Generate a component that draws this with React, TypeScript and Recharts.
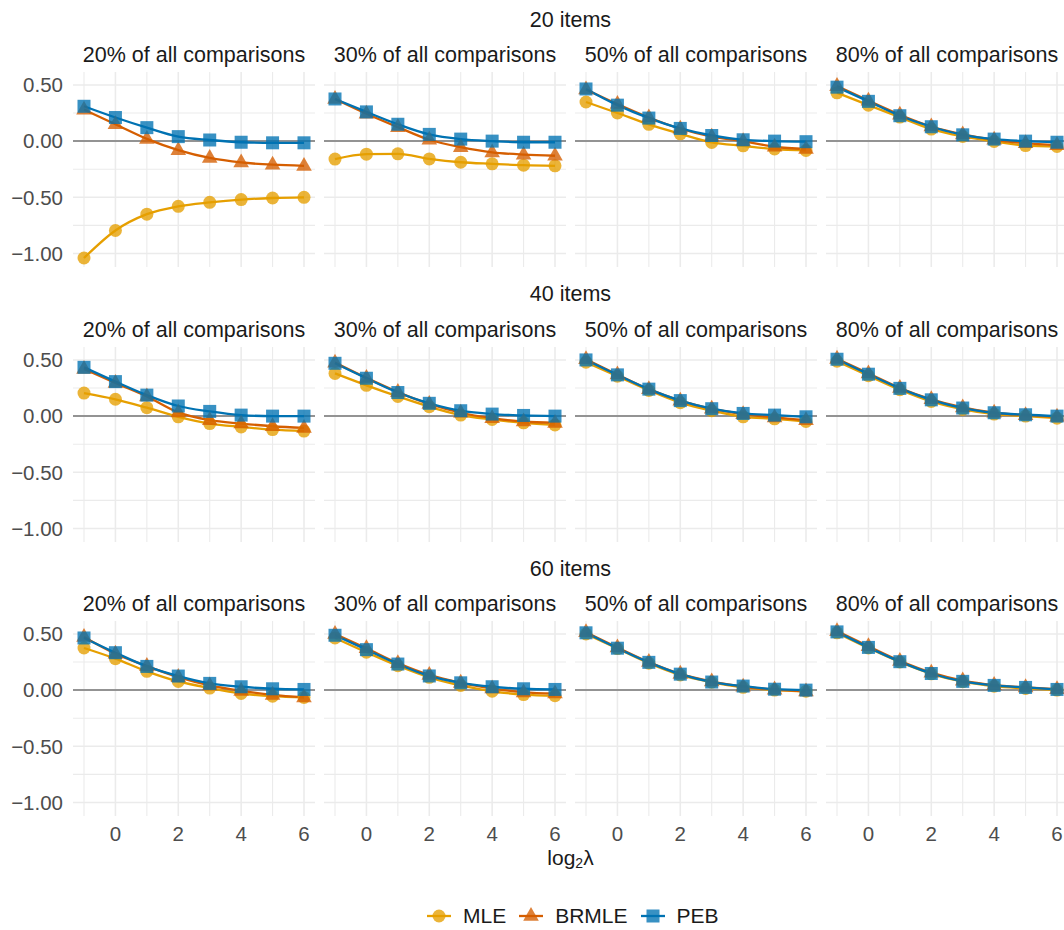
import { LineChart, Line, XAxis, YAxis, CartesianGrid, ReferenceLine } from "recharts"

const lambdaLog = [-1, 0, 1, 2, 3, 4, 5, 6]
const itemLabels = ["20 items", "40 items", "60 items"]
const shareLabels = ["20% of all comparisons", "30% of all comparisons", "50% of all comparisons", "80% of all comparisons"]
const methods = ["MLE", "BRMLE", "PEB"]

// each array: one row per share (20%, 30%, 50%, 80%), one value per log2(lambda)
const mle20 = [
  [-1.04, -0.795, -0.65, -0.58, -0.545, -0.52, -0.506, -0.5],
  [-0.16, -0.116, -0.113, -0.158, -0.188, -0.202, -0.214, -0.22],
  [0.348, 0.25, 0.149, 0.065, -0.012, -0.042, -0.07, -0.083],
  [0.43, 0.32, 0.214, 0.107, 0.042, -0.003, -0.04, -0.048],
]
const brmle20 = [
  [0.28, 0.15, 0.02, -0.08, -0.15, -0.19, -0.21, -0.22],
  [0.375, 0.244, 0.125, 0.012, -0.054, -0.1, -0.12, -0.13],
  [0.46, 0.33, 0.21, 0.11, 0.04, 0.0, -0.05, -0.07],
  [0.49, 0.36, 0.235, 0.13, 0.06, 0.012, -0.018, -0.035],
]
const peb20 = [
  [0.31, 0.21, 0.12, 0.04, 0.01, -0.01, -0.015, -0.015],
  [0.375, 0.26, 0.15, 0.06, 0.018, 0.0, -0.01, -0.01],
  [0.464, 0.32, 0.205, 0.113, 0.05, 0.012, 0.0, -0.005],
  [0.48, 0.354, 0.226, 0.128, 0.056, 0.018, 0.0, -0.01],
]
const mle40 = [
  [0.205, 0.15, 0.075, -0.006, -0.066, -0.096, -0.12, -0.133],
  [0.38, 0.274, 0.175, 0.084, 0.009, -0.03, -0.06, -0.078],
  [0.48, 0.355, 0.229, 0.12, 0.048, -0.006, -0.024, -0.048],
  [0.488, 0.36, 0.235, 0.13, 0.06, 0.018, 0.0, -0.018],
]
const brmle40 = [
  [0.42, 0.295, 0.175, 0.033, -0.036, -0.066, -0.09, -0.105],
  [0.476, 0.34, 0.214, 0.108, 0.03, -0.018, -0.048, -0.06],
  [0.506, 0.37, 0.24, 0.138, 0.066, 0.018, -0.012, -0.036],
  [0.51, 0.38, 0.25, 0.15, 0.078, 0.03, 0.009, -0.006],
]
const peb40 = [
  [0.434, 0.307, 0.187, 0.09, 0.042, 0.009, 0.0, 0.0],
  [0.47, 0.337, 0.21, 0.114, 0.048, 0.018, 0.006, 0.0],
  [0.5, 0.367, 0.24, 0.138, 0.066, 0.024, 0.009, -0.006],
  [0.506, 0.373, 0.247, 0.145, 0.072, 0.03, 0.012, 0.0],
]
const mle60 = [
  [0.375, 0.28, 0.167, 0.077, 0.018, -0.03, -0.054, -0.065],
  [0.464, 0.337, 0.217, 0.114, 0.042, -0.01, -0.04, -0.05],
  [0.5, 0.37, 0.24, 0.135, 0.07, 0.025, 0.0, -0.01],
  [0.51, 0.375, 0.25, 0.145, 0.075, 0.035, 0.015, 0.0],
]
const brmle60 = [
  [0.473, 0.324, 0.214, 0.116, 0.042, -0.006, -0.042, -0.065],
  [0.5, 0.373, 0.24, 0.135, 0.065, 0.015, -0.02, -0.03],
  [0.515, 0.38, 0.25, 0.145, 0.078, 0.03, 0.005, -0.012],
  [0.525, 0.39, 0.26, 0.155, 0.085, 0.045, 0.025, 0.008],
]
const peb60 = [
  [0.464, 0.333, 0.211, 0.125, 0.06, 0.03, 0.012, 0.006],
  [0.488, 0.36, 0.232, 0.126, 0.065, 0.03, 0.012, 0.006],
  [0.51, 0.373, 0.247, 0.142, 0.072, 0.036, 0.008, 0.0],
  [0.518, 0.38, 0.253, 0.148, 0.078, 0.042, 0.024, 0.006],
]

const xTicks = [0, 2, 4, 6]
const xMinor = [-1, 1, 3, 5]
const yTicks = [-1, -0.5, 0, 0.5]
const yMinor = [-0.75, -0.25, 0.25]

const byItems = [
  [mle20, brmle20, peb20],
  [mle40, brmle40, peb40],
  [mle60, brmle60, peb60],
]

const colors: Record<string, string> = { MLE: "#E69F00", BRMLE: "#D55E00", PEB: "#0072B2" }
const shapes: Record<string, string> = { MLE: "circle", BRMLE: "triangle", PEB: "square" }

const FONT = "'Liberation Sans', Arial, sans-serif"
const PANEL_W = 242
const PANEL_H = 195
const Y_AXIS_W = 73
const X_AXIS_H = 34
const panelLeft = [73, 324, 575, 826]
const panelTop = [72, 346.5, 621]

function Marker({ cx, cy, shape, color }: any) {
  if (cx == null || cy == null) return <g />
  if (shape === "circle") return <circle cx={cx} cy={cy} r={6.5} fill={color} fillOpacity={0.78} />
  if (shape === "triangle") {
    const s = 7.8
    const pts = `${cx},${cy - s * 1.15} ${cx - s},${cy + s * 0.62} ${cx + s},${cy + s * 0.62}`
    return <polygon points={pts} fill={color} fillOpacity={0.78} />
  }
  return <rect x={cx - 6.5} y={cy - 6.5} width={13} height={13} fill={color} fillOpacity={0.78} />
}

function fmt(v: number) {
  const s = Math.abs(v).toFixed(2)
  return v < 0 ? "\u2212" + s : s
}

function Panel({ r, c }: { r: number; c: number }) {
  const series = byItems[r]
  const data = lambdaLog.map((x, i) => ({
    x,
    MLE: series[0][c][i],
    BRMLE: series[1][c][i],
    PEB: series[2][c][i],
  }))
  const showY = c === 0
  const showX = r === 2
  return (
    <LineChart
      width={PANEL_W + (showY ? Y_AXIS_W : 0)}
      height={PANEL_H + (showX ? X_AXIS_H : 0)}
      data={data}
      margin={{ top: 0, right: 0, bottom: 0, left: 0 }}
    >
      <CartesianGrid horizontalValues={yMinor} verticalValues={xMinor} stroke="#ebebeb" strokeWidth={1.1} />
      <CartesianGrid horizontalValues={yTicks} verticalValues={xTicks} stroke="#ebebeb" strokeWidth={1.6} />
      <XAxis
        type="number"
        dataKey="x"
        domain={[-1.35, 6.35]}
        ticks={xTicks}
        allowDataOverflow
        hide={!showX}
        height={X_AXIS_H}
        axisLine={false}
        tickLine={false}
        tickSize={8}
        tickMargin={2}
        tick={{ fill: "#4d4d4d", fontSize: 20.5, fontFamily: FONT }}
      />
      <YAxis
        type="number"
        domain={[-1.12, 0.615]}
        ticks={yTicks}
        allowDataOverflow
        hide={!showY}
        width={Y_AXIS_W}
        axisLine={false}
        tickLine={false}
        tickSize={8}
        tickMargin={2}
        tickFormatter={fmt}
        tick={{ fill: "#4d4d4d", fontSize: 20.5, fontFamily: FONT }}
      />
      <ReferenceLine y={0} stroke="#939393" strokeWidth={2} />
      {methods.map((m) => (
        <Line
          key={m}
          type="monotone"
          dataKey={m}
          stroke={colors[m]}
          strokeWidth={2.3}
          isAnimationActive={false}
          activeDot={false}
          dot={(p: any) => (
            <Marker key={`${m}-${p.index}`} cx={p.cx} cy={p.cy} shape={shapes[m]} color={colors[m]} />
          )}
        />
      ))}
    </LineChart>
  )
}

function LegendKey({ m }: { m: string }) {
  return (
    <svg width={26} height={20} style={{ display: "block" }}>
      <line x1={1} x2={25} y1={10} y2={10} stroke={colors[m]} strokeWidth={2.3} />
      <Marker cx={13} cy={10} shape={shapes[m]} color={colors[m]} />
    </svg>
  )
}

const textStyle = { fontFamily: FONT, color: "#1a1a1a", fontSize: 21.5, lineHeight: "24px", whiteSpace: "nowrap" as const }

export default function App() {
  const plotCenter = (panelLeft[0] + panelLeft[3] + PANEL_W) / 2
  return (
    <div style={{ position: "absolute", left: 0, top: 0, width: 1064, height: 930, overflow: "hidden", background: "#fff" }}>
      {itemLabels.map((lab, r) => (
        <div key={lab}>
          <div style={{ ...textStyle, position: "absolute", left: plotCenter - 200, width: 400, textAlign: "center", top: 19.7 + 274.7 * r - 12 }}>
            {lab}
          </div>
          {shareLabels.map((s, c) => (
            <div
              key={s}
              style={{ ...textStyle, position: "absolute", left: panelLeft[c] - 20, width: PANEL_W + 40, textAlign: "center", top: 55 + 274.7 * r - 12 }}
            >
              {s}
            </div>
          ))}
          {shareLabels.map((s, c) => (
            <div key={"p" + s} style={{ position: "absolute", left: c === 0 ? 0 : panelLeft[c], top: panelTop[r] }}>
              <Panel r={r} c={c} />
            </div>
          ))}
        </div>
      ))}
      <div style={{ ...textStyle, fontSize: 21, position: "absolute", left: plotCenter - 100, width: 200, textAlign: "center", top: 858 - 12 }}>
        log<sub style={{ fontSize: 14, verticalAlign: "-3px", lineHeight: 0 }}>2</sub>λ
      </div>
      <div style={{ position: "absolute", left: 426, top: 904, display: "flex", alignItems: "center", height: 24 }}>
        {methods.map((m) => (
          <div key={m} style={{ display: "flex", alignItems: "center", marginRight: 12 }}>
            <LegendKey m={m} />
            <span style={{ ...textStyle, fontSize: 21, marginLeft: 11 }}>{m}</span>
          </div>
        ))}
      </div>
    </div>
  )
}
